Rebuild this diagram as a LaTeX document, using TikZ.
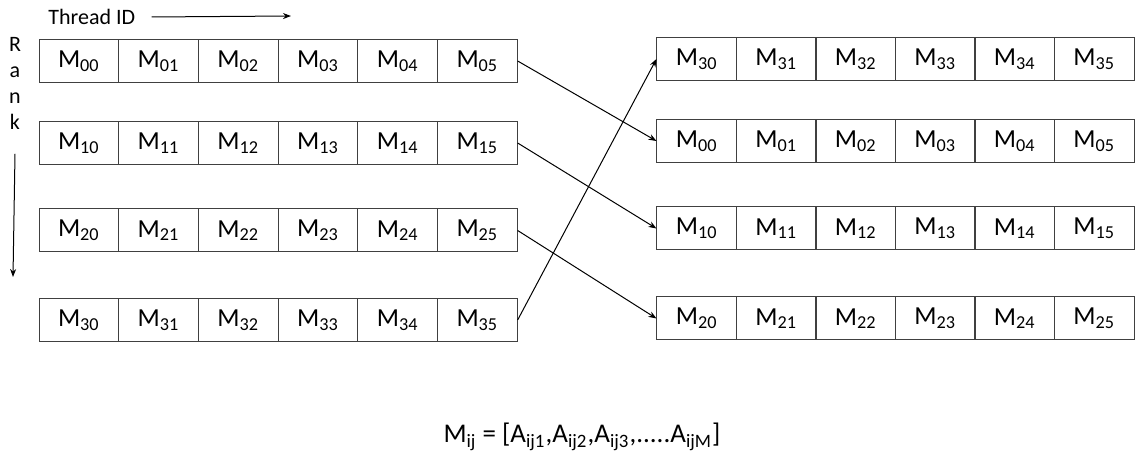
\documentclass[tikz,border=0pt]{standalone}
\usepackage{fontspec}
\setmainfont{Carlito}
\usetikzlibrary{arrows.meta}

\begin{document}
\begin{tikzpicture}[
  x=0.5pt,y=-0.5pt,
  cell/.style={draw=black!75,line width=0.5pt,minimum width=39.8pt,minimum height=21.5pt,
               inner sep=0pt,font=\fontsize{13}{15}\selectfont},
  arr/.style={->,>={Stealth[length=4pt,width=3pt]},line width=0.5pt},
  smalllabel/.style={font=\fontsize{11}{13}\selectfont,inner sep=0pt},
]
\useasboundingbox (0,0) rectangle (1135,458);

% Labels
\node[smalllabel,anchor=west] (thread) at (48,17) {Thread ID};
\coordinate (threadend) at (291,16);
\node[smalllabel,align=center,anchor=north] (rank) at (15,37) {R\\a\\n\\k};
\coordinate (rankend) at (13,277);

% Left block: one row per rank
\foreach \r/\y in {0/61,1/143,2/230.5,3/320}
  \foreach \c in {0,...,5}
    \node[cell] (l\r\c) at ({39+79.7*(\c+0.5)},\y) {M\textsubscript{\r\c}};

% Right block: rows shifted by one rank
\foreach \r/\m/\y in {0/3/59,1/0/141,2/1/228.5,3/2/318.5}
  \foreach \c in {0,...,5}
    \node[cell] (r\r\c) at ({657+79.5*(\c+0.5)},\y) {M\textsubscript{\m\c}};

% Arrows
\draw[arr] ([xshift=8pt]thread.east) -- (threadend);
\draw[arr] ([yshift=-12pt]rank.south) -- (rankend);
\draw[arr] (l05.east) -- (r10.west);
\draw[arr] (l15.east) -- (r20.west);
\draw[arr] (l25.east) -- (r30.west);
\draw[arr] (l35.east) -- (r00.west);

% Definition
\node[font=\fontsize{13.5}{15}\selectfont] (mij) at (582,437)
  {M\textsubscript{ij} = [A\textsubscript{ij1},A\textsubscript{ij2},A\textsubscript{ij3},.....A\textsubscript{ijM}]};

\end{tikzpicture}
\end{document}
